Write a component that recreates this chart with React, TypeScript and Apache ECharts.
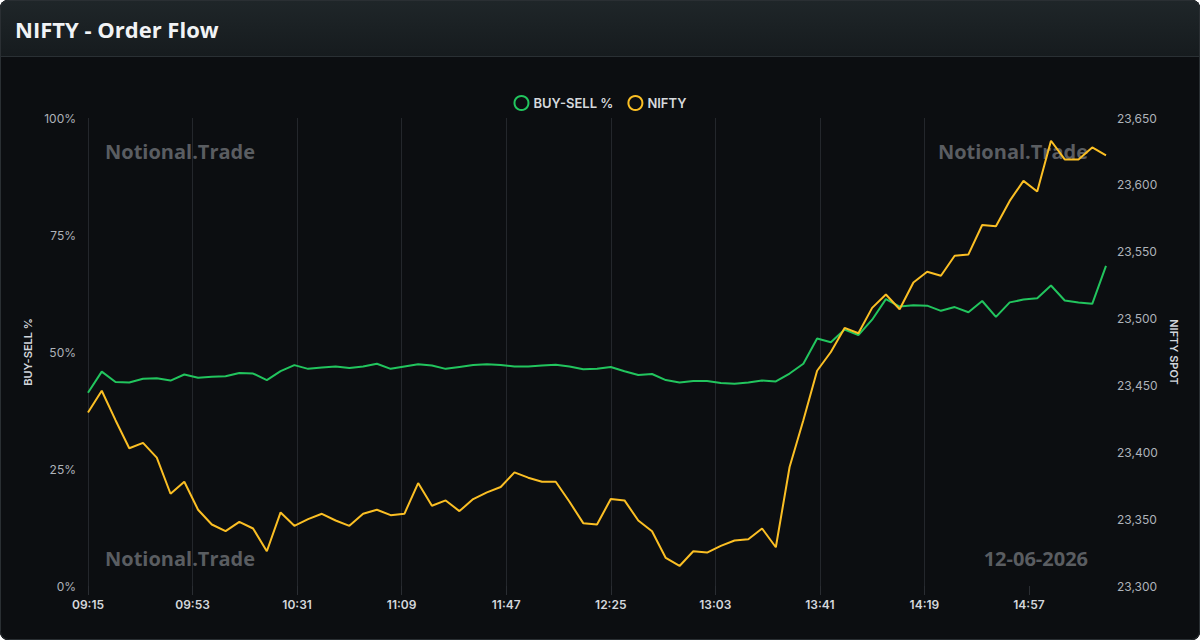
import React, { useEffect, useRef } from "react";
import * as echarts from "echarts";

const times: string[] = [
  "09:15","09:20","09:25","09:30","09:35","09:40","09:45","09:50","09:55",
  "10:00","10:05","10:10","10:15","10:20","10:25","10:30","10:35","10:40","10:45","10:50","10:55",
  "11:00","11:05","11:10","11:15","11:20","11:25","11:30","11:35","11:40","11:45","11:50","11:55",
  "12:00","12:05","12:10","12:15","12:20","12:25","12:30","12:35","12:40","12:45","12:50","12:55",
  "13:00","13:05","13:10","13:15","13:20","13:25","13:30","13:35","13:40","13:45","13:50","13:55",
  "14:00","14:05","14:10","14:15","14:20","14:25","14:30","14:35","14:40","14:45","14:50","14:55",
  "15:00","15:05","15:10","15:15","15:20","15:25",
];

const buySellPct: number[] = [
  41.3, 45.8, 43.6, 43.5, 44.3, 44.4, 43.9, 45.2, 44.5, 44.7,
  44.8, 45.5, 45.4, 44.0, 45.9, 47.2, 46.4, 46.7, 46.9, 46.6,
  46.9, 47.5, 46.4, 46.9, 47.4, 47.1, 46.4, 46.8, 47.2, 47.4,
  47.2, 46.9, 46.9, 47.1, 47.3, 46.9, 46.3, 46.4, 46.8, 45.9,
  45.1, 45.3, 44.0, 43.5, 43.8, 43.8, 43.4, 43.2, 43.5, 43.9,
  43.7, 45.4, 47.5, 52.9, 52.1, 54.8, 53.6, 56.9, 61.3, 59.7,
  60.0, 59.9, 58.8, 59.6, 58.5, 60.9, 57.5, 60.6, 61.2, 61.5,
  64.2, 61.0, 60.6, 60.3, 68.4,
];

const niftySpot: number[] = [
  23429.7, 23446, 23424, 23403, 23407, 23396, 23369, 23378, 23357, 23346,
  23341, 23348, 23343, 23326, 23355, 23345, 23350, 23354, 23349, 23345,
  23354, 23357, 23353, 23354, 23377, 23360, 23364, 23356, 23365, 23370,
  23374, 23385, 23381, 23378, 23378, 23363, 23347, 23346, 23365, 23364,
  23349, 23341, 23321, 23315, 23326, 23325, 23330, 23334, 23335, 23343,
  23329, 23389, 23424, 23461, 23475, 23493, 23489, 23508, 23518, 23507,
  23527, 23535, 23532, 23547, 23548, 23570, 23569, 23588, 23603, 23595,
  23633, 23619, 23619, 23628, 23622,
];

const xTickLabels: string[] = ["09:15","09:53","10:31","11:09","11:47","12:25","13:03","13:41","14:19","14:57"];
const leftTicks: number[] = [0, 25, 50, 75, 100];
const rightTicks: number[] = [23300, 23350, 23400, 23450, 23500, 23550, 23600, 23650];

const START = 9 * 60 + 15;
const toMin = (t: string) => {
  const [h, m] = t.split(":").map(Number);
  return h * 60 + m - START;
};
const fmtMin = (v: number) => {
  const total = Math.round(v) + START;
  const h = Math.floor(total / 60);
  const m = total % 60;
  return `${String(h).padStart(2, "0")}:${String(m).padStart(2, "0")}`;
};

export default function App() {
  const ref = useRef<HTMLDivElement>(null);
  useEffect(() => {
    document.body.style.margin = "0";
    const chart = echarts.init(ref.current!, undefined, { renderer: "svg" });
    const tickMins = xTickLabels.map(toMin);
    const xInterval = tickMins[1] - tickMins[0];
    const xMax = toMin(times[times.length - 1]);
    const watermark = "#5a5d61";
    const wmFont = 'bold 20px "Open Sans"';
    chart.setOption({
      animation: false,
      backgroundColor: "#0c0e11",
      title: {
        text: "NIFTY - Order Flow",
        left: 15,
        top: 18,
        padding: 0,
        textStyle: { color: "#f1f3f5", fontSize: 22, fontWeight: "bold", fontFamily: "Open Sans" },
      },
      graphic: [
        {
          type: "rect",
          z: -10,
          shape: { x: 0, y: 0, width: 1200, height: 56 },
          style: {
            fill: {
              type: "linear", x: 0, y: 0, x2: 0, y2: 1,
              colorStops: [
                { offset: 0, color: "#1f2629" },
                { offset: 1, color: "#161b1e" },
              ],
            },
          },
        },
        {
          type: "line",
          z: -9,
          shape: { x1: 0, y1: 56.5, x2: 1200, y2: 56.5 },
          style: { stroke: "#2a3034", lineWidth: 1 },
        },
        {
          type: "rect",
          z: 100,
          shape: { x: 0.5, y: 0.5, width: 1199, height: 639, r: 8 },
          style: { fill: "none", stroke: "#2a2f33", lineWidth: 1 },
        },
        { type: "text", x: 105, y: 151, z: -5, style: { text: "Notional.Trade", fill: watermark, font: wmFont, textAlign: "left", textVerticalAlign: "middle" } },
        { type: "text", x: 1088, y: 151, z: -5, style: { text: "Notional.Trade", fill: watermark, font: wmFont, textAlign: "right", textVerticalAlign: "middle" } },
        { type: "text", x: 105, y: 558, z: -5, style: { text: "Notional.Trade", fill: watermark, font: wmFont, textAlign: "left", textVerticalAlign: "middle" } },
        { type: "text", x: 1088, y: 558, z: -5, style: { text: "12-06-2026", fill: watermark, font: wmFont, textAlign: "right", textVerticalAlign: "middle" } },
      ],
      legend: {
        top: 90,
        left: "center",
        itemWidth: 14,
        itemHeight: 14,
        itemGap: 14,
        textStyle: { color: "#d6d9dd", fontSize: 13, fontWeight: 600, fontFamily: "Inter" },
        data: [
          { name: "BUY-SELL %", icon: "circle", itemStyle: { color: "transparent", borderColor: "#22c55e", borderWidth: 2 } },
          { name: "NIFTY", icon: "circle", itemStyle: { color: "transparent", borderColor: "#fbbf24", borderWidth: 2 } },
        ],
      },
      grid: { left: 88, right: 94, top: 118, bottom: 54 },
      xAxis: {
        type: "value",
        min: 0,
        max: xMax,
        interval: xInterval,
        axisLine: { show: false },
        axisTick: { show: true, length: 9, customValues: tickMins, lineStyle: { color: "#2a2d32" } },
        splitLine: { show: true, showMaxLine: false, lineStyle: { color: "#24272c", width: 1 } },
        axisLabel: {
          formatter: (v: number) => fmtMin(v),
          showMaxLabel: false,
          color: "#d4d7dc",
          fontSize: 12,
          fontWeight: 600,
          fontFamily: "Inter",
          margin: 12,
        },
      },
      yAxis: [
        {
          type: "value",
          position: "left",
          min: leftTicks[0],
          max: leftTicks[leftTicks.length - 1],
          interval: leftTicks[1] - leftTicks[0],
          name: "BUY-SELL %",
          nameLocation: "middle",
          nameGap: 51,
          nameTextStyle: { color: "#d1d5db", fontSize: 11, fontWeight: 600, fontFamily: "Inter" },
          axisLine: { show: false },
          axisTick: { show: false },
          splitLine: { show: false },
          axisLabel: { formatter: "{value}%", color: "#aeb3ba", fontSize: 12, fontFamily: "Inter", margin: 12 },
        },
        {
          type: "value",
          position: "right",
          min: rightTicks[0],
          max: rightTicks[rightTicks.length - 1],
          interval: rightTicks[1] - rightTicks[0],
          name: "NIFTY SPOT",
          nameLocation: "middle",
          nameRotate: -90,
          nameGap: 57,
          nameTextStyle: { color: "#d1d5db", fontSize: 11, fontWeight: 600, fontFamily: "Inter" },
          axisLine: { show: false },
          axisTick: { show: false },
          splitLine: { show: false },
          axisLabel: {
            formatter: (v: number) => v.toLocaleString("en-US"),
            color: "#aeb3ba",
            fontSize: 12,
            fontFamily: "Inter",
            margin: 11,
          },
        },
      ],
      series: [
        {
          name: "BUY-SELL %",
          type: "line",
          yAxisIndex: 0,
          symbol: "none",
          color: "#22c55e",
          lineStyle: { width: 2, color: "#22c55e" },
          data: times.map((t, i) => [toMin(t), buySellPct[i]]),
        },
        {
          name: "NIFTY",
          type: "line",
          yAxisIndex: 1,
          symbol: "none",
          color: "#fbbf24",
          lineStyle: { width: 2, color: "#fbbf24" },
          data: times.map((t, i) => [toMin(t), niftySpot[i]]),
        },
      ],
    });
    return () => chart.dispose();
  }, []);
  return (
    <div style={{ position: "absolute", left: 0, top: 0, width: 1200, height: 640, borderRadius: 8, overflow: "hidden", background: "#0c0e11" }}>
      <div ref={ref} style={{ width: 1200, height: 640 }} />
    </div>
  );
}
